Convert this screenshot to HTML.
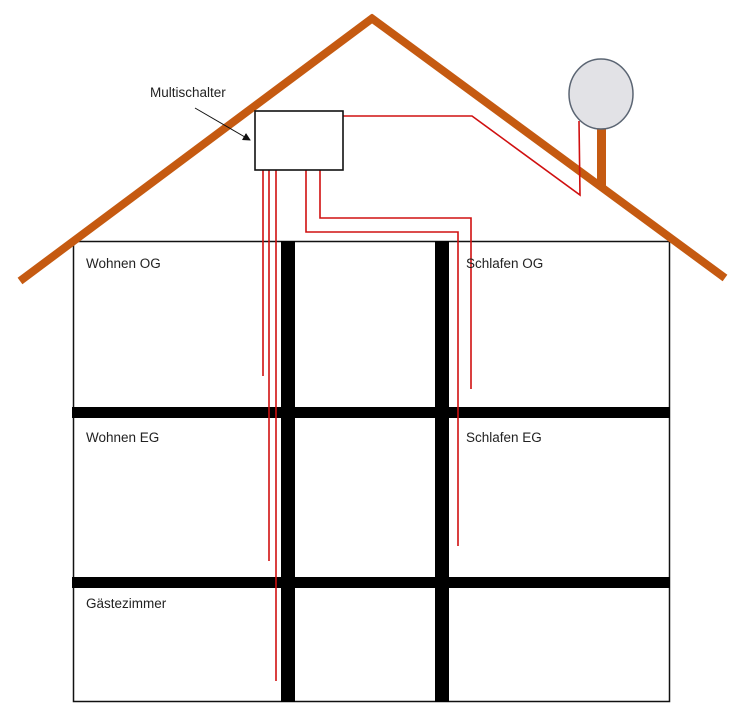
<!DOCTYPE html>
<html><head><meta charset="utf-8"><style>
html,body{margin:0;padding:0;background:#fff;width:743px;height:720px;overflow:hidden}
svg{display:block}
text{font-family:"Liberation Sans",sans-serif;font-size:13.5px;fill:#222}
</style></head><body>
<svg width="743" height="720" viewBox="0 0 743 720" xmlns="http://www.w3.org/2000/svg">
<defs><marker id="ah" markerWidth="8" markerHeight="8" refX="7" refY="4" orient="auto" markerUnits="userSpaceOnUse"><path d="M0,0 L8,4 L0,8 z" fill="#111"/></marker></defs>
<!-- house -->
<rect x="73.5" y="241.5" width="596" height="460" fill="#fff" stroke="#111" stroke-width="1.5"/>
<rect x="72" y="407" width="598" height="11" fill="#000"/>
<rect x="72" y="577" width="598" height="11" fill="#000"/>
<rect x="281" y="241" width="14" height="461" fill="#000"/>
<rect x="435" y="241" width="14" height="461" fill="#000"/>
<!-- roof -->
<line x1="20" y1="281" x2="374" y2="17" stroke="#c55a11" stroke-width="8"/>
<line x1="370" y1="17" x2="725" y2="278" stroke="#c55a11" stroke-width="8"/>
<!-- dish -->
<rect x="597" y="128" width="9" height="58" fill="#c55a11"/>
<ellipse cx="601" cy="94" rx="32" ry="35" fill="#e2e2e6" stroke="#5b6573" stroke-width="1.5"/>
<!-- red cables -->
<g fill="none" stroke="#d01010" stroke-width="1.6">
<polyline points="343,116 472,116 580,195 579,121"/>
<line x1="263" y1="170" x2="263" y2="376"/>
<line x1="269" y1="170" x2="269" y2="561"/>
<line x1="276" y1="170" x2="276" y2="681"/>
<polyline points="306,170 306,232 458,232 458,546"/>
<polyline points="320,170 320,218 471,218 471,389"/>
</g>
<!-- multischalter -->
<rect x="255" y="111" width="88" height="59" fill="#fff" stroke="#111" stroke-width="1.6"/>
<line x1="195" y1="108" x2="250" y2="140" stroke="#111" stroke-width="1" marker-end="url(#ah)"/>
<text x="150" y="97">Multischalter</text>
<text x="86" y="268">Wohnen OG</text>
<text x="466" y="268">Schlafen OG</text>
<text x="86" y="442">Wohnen EG</text>
<text x="466" y="442">Schlafen EG</text>
<text x="86" y="608">Gästezimmer</text>
</svg>
</body></html>
